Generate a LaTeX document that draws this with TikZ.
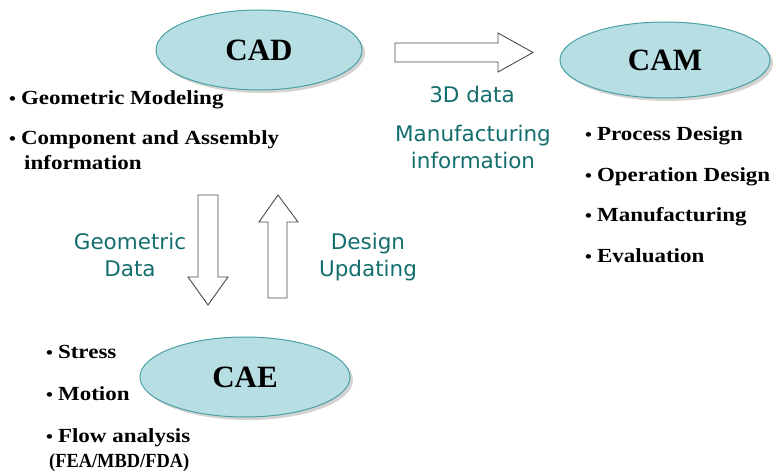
\documentclass[tikz,border=0pt]{standalone}
\usepackage{fontspec}
\usepackage{graphicx}
\setmainfont{Liberation Serif}
\newfontfamily\itemfont[FakeStretch=1.15]{Liberation Serif}
\newfontfamily\labfont{DejaVu Sans}
\usetikzlibrary{shapes.geometric,shadows}
\definecolor{ellfill}{RGB}{183,223,227}
\definecolor{elldraw}{RGB}{75,160,165}
\definecolor{teal}{RGB}{20,110,110}
\tikzset{
  bubble/.style={ellipse, draw=elldraw, line width=1pt, fill=ellfill, inner sep=0pt,
    drop shadow={shadow xshift=3pt, shadow yshift=-3pt, opacity=0.35, fill=gray},
    font=\bfseries\fontsize{31}{31}\selectfont},
  item/.style={anchor=base west, inner sep=0pt, font=\itemfont\bfseries\fontsize{20}{22}\selectfont},
  lab/.style={text=teal, align=center, inner sep=0pt, font=\labfont\fontsize{21.5}{27}\selectfont},
  fat/.style={draw=black!70, line width=0.9pt, fill=white}
}
\newcommand{\bul}{{\fontsize{17}{17}\selectfont\textbullet}\hspace{5pt}}
\begin{document}
\begin{tikzpicture}[x=1pt,y=-1pt]
\useasboundingbox (0,0) rectangle (773,473);
% ellipses
\node[bubble, minimum width=206pt, minimum height=80pt] (cad) at (259,50) {CAD};
\node[bubble, minimum width=210pt, minimum height=76pt] (cam) at (665,60) {CAM};
\node[bubble, minimum width=210pt, minimum height=80pt] (cae) at (245,377) {CAE};
% block arrows
\draw[fat] (395,43) -- (498,43) -- (498,33) -- (533,52.5) -- (498,72) -- (498,62) -- (395,62) -- cycle;
\draw[fat] (198,195) -- (218,195) -- (218,277) -- (228,277) -- (208,305) -- (188,277) -- (198,277) -- cycle;
\draw[fat] (268,298) -- (287,298) -- (287,222) -- (298,222) -- (278,195) -- (259,222) -- (268,222) -- cycle;
% teal labels
\node[lab] (l3d) at (472,94) {3D data};
\node[lab] (lmf) at (473,147) {Manufacturing\\information};
\node[lab] (lgd) at (130,255) {Geometric\\Data};
\node[lab] (ldu) at (368,257) {Design\\Updating};
% CAD items
\node[item] (c1) at (9,105) {\bul Geometric Modeling};
\node[item] (c2) at (9,145) {\bul Component and Assembly};
\node[item] (c3) at (24,170) {information};
% CAM items
\node[item] (m1) at (585,141) {\bul Process Design};
\node[item] (m2) at (585,182) {\bul Operation Design};
\node[item] (m3) at (585,222) {\bul Manufacturing};
\node[item] (m4) at (585,262) {\bul Evaluation};
% CAE items
\node[item] (e1) at (46,358) {\bul Stress};
\node[item] (e2) at (46,400) {\bul Motion};
\node[item] (e3) at (46,442) {\bul Flow analysis};
\node[item] (e4) at (49,467) {\scalebox{0.8}[1]{(FEA/MBD/FDA)}};
\end{tikzpicture}
\end{document}
